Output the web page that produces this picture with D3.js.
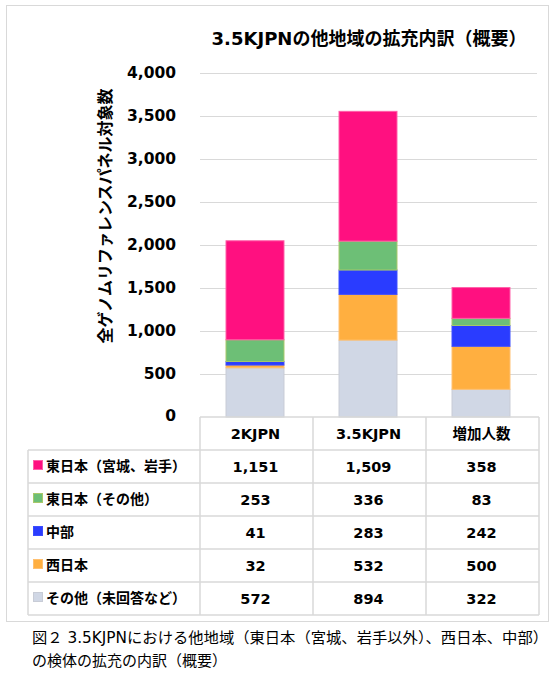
<!DOCTYPE html>
<html><head><meta charset="utf-8">
<script src="https://cdn.jsdelivr.net/npm/d3@7"></script>
<style>
html,body{margin:0;padding:0;background:#fff;}
svg{display:block;}
text{font-family:"DejaVu Sans","Noto Sans CJK JP",sans-serif;fill:#000;}
</style></head>
<body>
<script>
const title = "3.5KJPNの他地域の拡充内訳（概要）";
const yAxisTitle = "全ゲノムリファレンスパネル対象数";
const categories = ["2KJPN", "3.5KJPN", "増加人数"];
const seriesNames = ["東日本（宮城、岩手）", "東日本（その他）", "中部", "西日本", "その他（未回答など）"];
const eastMiyagiIwate = [1151, 1509, 358];
const eastOther = [253, 336, 83];
const chubu = [41, 283, 242];
const westJapan = [32, 532, 500];
const otherUnanswered = [572, 894, 322];
const yTicks = [0, 500, 1000, 1500, 2000, 2500, 3000, 3500, 4000];
const captionLines = ["図２ 3.5KJPNにおける他地域（東日本（宮城、岩手以外）、西日本、中部）", "の検体の拡充の内訳（概要）"];

const seriesValues = [eastMiyagiIwate, eastOther, chubu, westJapan, otherUnanswered];
const colors = ["#FF1080", "#6DBF76", "#2A3CFF", "#FFAF40", "#D0D7E5"];
const strokes = ["#FF5FA8", "#A8C86A", "#3B4CFF", "#FFC070", "#C8CCD6"];
// stacking order bottom -> top
const stackOrder = [4, 3, 2, 1, 0];

const W = 557, H = 675;
const svg = d3.select("body").append("svg").attr("width", W).attr("height", H);

// outer frame
svg.append("rect").attr("x", 6.5).attr("y", 5.5).attr("width", 542).attr("height", 616)
  .attr("fill", "none").attr("stroke", "#d9d9d9").attr("stroke-width", 1);

const plotLeft = 200, plotRight = 539;
const x = d3.scaleBand().domain(categories).range([plotLeft - 2, plotRight - 2]).paddingInner(0.487).paddingOuter(0.2435);
const y = d3.scaleLinear().domain([0, 4000]).range([417, 73]);

// title
svg.append("text").attr("x", 369).attr("y", 45).attr("text-anchor", "middle")
  .attr("font-size", 18).attr("font-weight", "bold").text(title);

// gridlines
svg.append("g").selectAll("line").data(yTicks.filter(d => d > 0)).join("line")
  .attr("x1", plotLeft).attr("x2", plotRight - 2)
  .attr("y1", d => Math.round(y(d)) + 0.5).attr("y2", d => Math.round(y(d)) + 0.5)
  .attr("stroke", "#d9d9d9").attr("stroke-width", 1.2);

// y axis labels via d3 axis
const yAxis = d3.axisLeft(y).tickValues(yTicks).tickFormat(d3.format(",")).tickSize(0).tickPadding(0);
const gy = svg.append("g").attr("transform", "translate(176,0)").call(yAxis);
gy.select(".domain").remove();
gy.selectAll("text").attr("font-size", 15.5).attr("font-weight", "bold")
  .attr("font-family", "DejaVu Sans, Verdana, sans-serif").attr("fill", "#000");
gy.selectAll(".tick").filter(d => d === 0).select("text").attr("dy", "0.2em");

// y axis title
svg.append("text").attr("transform", "translate(111,216) rotate(-90)")
  .attr("text-anchor", "middle").attr("font-size", 16).attr("font-weight", "bold")
  .attr("font-family", "Noto Sans CJK JP, sans-serif").text(yAxisTitle);

// stacked bars
const barsG = svg.append("g");
categories.forEach((c, ci) => {
  let base = 0;
  stackOrder.forEach(si => {
    const v = seriesValues[si][ci];
    barsG.append("rect")
      .attr("x", x(c) + 0.5).attr("width", x.bandwidth())
      .attr("y", y(base + v)).attr("height", y(base) - y(base + v))
      .attr("fill", colors[si]).attr("stroke", strokes[si]).attr("stroke-width", 1);
    base += v;
  });
});

// data table
const tableLeft = 28;
const headerTop = 417, rowH = 33;
const rowTops = d3.range(seriesNames.length + 1).map(i => headerTop + rowH * (i + 1));
const gridColor = "#d9d9d9";
const tg = svg.append("g");
tg.append("line").attr("x1", plotLeft).attr("x2", plotRight).attr("y1", headerTop).attr("y2", headerTop)
  .attr("stroke", gridColor).attr("stroke-width", 1.5);
rowTops.forEach(ry => {
  tg.append("line").attr("x1", tableLeft).attr("x2", plotRight).attr("y1", ry).attr("y2", ry)
    .attr("stroke", gridColor).attr("stroke-width", 1.5);
});
const bottom = rowTops[rowTops.length - 1];
tg.append("line").attr("x1", tableLeft).attr("x2", tableLeft).attr("y1", rowTops[0]).attr("y2", bottom)
  .attr("stroke", gridColor).attr("stroke-width", 1.5);
const colEdges = [plotLeft, 313, 426, plotRight];
colEdges.forEach(cx => {
  tg.append("line").attr("x1", cx).attr("x2", cx).attr("y1", headerTop).attr("y2", bottom)
    .attr("stroke", gridColor).attr("stroke-width", 1.5);
});
categories.forEach(c => {
  tg.append("text").attr("x", x(c) + x.bandwidth() / 2 + 1).attr("y", headerTop + rowH / 2)
    .attr("dy", "0.35em").attr("text-anchor", "middle").attr("font-size", 14.5).attr("font-weight", "bold")
    .text(c);
});
const fmt = d3.format(",");
seriesNames.forEach((name, si) => {
  const cy = rowTops[si] + rowH / 2 - 1;
  tg.append("rect").attr("x", 33.5).attr("y", cy - 5).attr("width", 9).attr("height", 9)
    .attr("fill", colors[si]).attr("stroke", strokes[si]).attr("stroke-width", 1);
  tg.append("text").attr("x", 46).attr("y", cy).attr("dy", "0.36em")
    .attr("font-size", 14).attr("font-weight", "bold")
    .attr("font-family", "Noto Sans CJK JP, sans-serif").text(name);
  categories.forEach((c, ci) => {
    tg.append("text").attr("x", x(c) + x.bandwidth() / 2 + 1).attr("y", cy + 1)
      .attr("dy", "0.36em").attr("text-anchor", "middle").attr("font-size", 14.5).attr("font-weight", "bold")
      .text(fmt(seriesValues[si][ci]));
  });
});

// caption
svg.append("text").attr("x", 32).attr("y", 643).attr("font-size", 15)
  .attr("font-family", "Noto Sans CJK JP, sans-serif")
  .attr("textLength", 516).attr("lengthAdjust", "spacingAndGlyphs").text(captionLines[0]);
svg.append("text").attr("x", 32).attr("y", 666).attr("font-size", 15)
  .attr("font-family", "Noto Sans CJK JP, sans-serif").text(captionLines[1]);
</script>
</body></html>
